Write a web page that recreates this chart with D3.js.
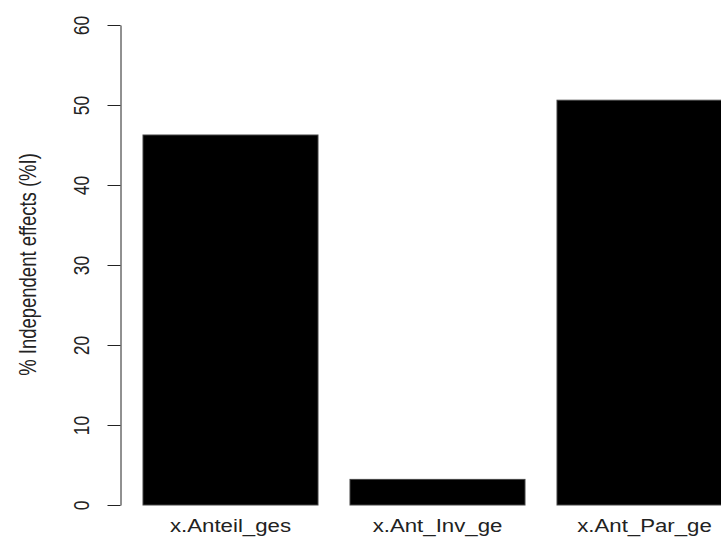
<!DOCTYPE html>
<html>
<head>
<meta charset="utf-8">
<script src="https://cdn.jsdelivr.net/npm/d3@7"></script>
<style>
  body { margin: 0; background: #fff; }
  text { font-family: "Liberation Sans", Arial, sans-serif; fill: #222; }
</style>
</head>
<body>
<div id="chart"></div>
<script>
// data
var categories = ["x.Anteil_ges", "x.Ant_Inv_ge", "x.Ant_Par_ge"];
var effects = [46.25, 3.2, 50.6];
var yTicks = [0, 10, 20, 30, 40, 50, 60];
var yTitle = "% Independent effects (%I)";

var width = 721, height = 554;
var stretch = "scale(1.27,1)"; // the original image is stretched horizontally

var svg = d3.select("#chart")
    .append("svg")
    .attr("width", width)
    .attr("height", height);

// x: one band per predictor
var x = d3.scaleBand()
    .domain(categories)
    .range([127, 748])
    .paddingInner(32 / 207)
    .paddingOuter(16 / 207);

// y: percent
var y = d3.scaleLinear()
    .domain([0, 60])
    .range([505, 25]);

// bars
svg.append("g")
    .selectAll("rect")
    .data(categories)
    .enter()
    .append("rect")
    .attr("x", function (d) { return x(d); })
    .attr("y", function (d, i) { return y(effects[i]); })
    .attr("width", x.bandwidth())
    .attr("height", function (d, i) { return y(0) - y(effects[i]); })
    .attr("fill", "#000")
    .attr("stroke", "#444")
    .attr("stroke-width", 1);

// y axis
var yAxis = svg.append("g")
    .attr("transform", "translate(120.5,0)")
    .call(d3.axisLeft(y).tickValues(yTicks).tickSize(13).tickSizeOuter(0));

yAxis.select(".domain").attr("stroke", "#222");
yAxis.selectAll(".tick line").attr("stroke", "#222");
yAxis.selectAll(".tick text")
    .attr("x", null)
    .attr("dy", null)
    .attr("text-anchor", "middle")
    .attr("font-size", 17.5)
    .attr("font-family", "Liberation Sans, Arial, sans-serif")
    .attr("fill", "#222")
    .attr("transform", "translate(-32,0) " + stretch + " rotate(-90)");

// category labels
svg.append("g")
    .selectAll("text")
    .data(categories)
    .enter()
    .append("text")
    .attr("text-anchor", "middle")
    .attr("font-size", 17.5)
    .attr("transform", function (d) {
        return "translate(" + (x(d) + x.bandwidth() / 2) + ",532) " + stretch;
    })
    .text(function (d) { return d; });

// y title
svg.append("text")
    .attr("text-anchor", "middle")
    .attr("font-size", 18.5)
    .attr("transform", "translate(36," + 264.5 + ") " + stretch + " rotate(-90)")
    .text(yTitle);
</script>
</body>
</html>
